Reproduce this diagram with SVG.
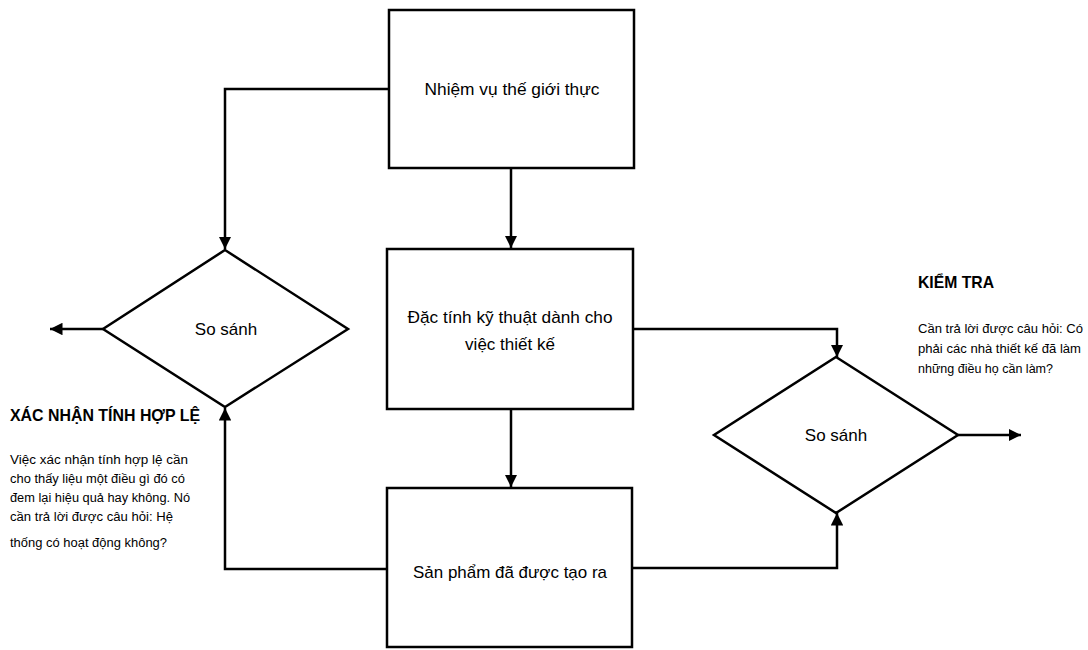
<svg xmlns="http://www.w3.org/2000/svg" width="1088" height="650" viewBox="0 0 1088 650">
<defs>
<marker id="arr" viewBox="0 0 10 10" refX="10" refY="5" markerWidth="5" markerHeight="5" markerUnits="strokeWidth" orient="auto">
<path d="M0,0 L10,5 L0,10 z" fill="#000"/>
</marker>
</defs>
<style>
.box{fill:#fff;stroke:#000;stroke-width:2.5}
.dia{fill:#fff;stroke:#000;stroke-width:2.5;stroke-linejoin:miter}
.con{fill:none;stroke:#000;stroke-width:2.5}
.arr{marker-end:url(#arr)}
.lbl{font-family:"Liberation Sans",Arial,sans-serif;font-size:17px;fill:#000;text-anchor:middle}
.head{font-family:"Liberation Sans",Arial,sans-serif;font-size:17px;font-weight:bold;fill:#000}
.body{font-family:"Liberation Sans",Arial,sans-serif;font-size:12.5px;fill:#000}
</style>
<rect width="1088" height="650" fill="#fff"/>
<g id="connectors">
<polyline class="con arr" points="389,89 225,89 225,249"/>
<line class="con arr" x1="511" y1="168" x2="511" y2="248"/>
<line class="con arr" x1="511" y1="409" x2="511" y2="487"/>
<line class="con arr" x1="103" y1="329" x2="50" y2="329"/>
<polyline class="con arr" points="387,569 225,569 225,408"/>
<polyline class="con arr" points="633,329 837,329 837,357"/>
<polyline class="con arr" points="632,568 837,568 837,513"/>
<line class="con arr" x1="958" y1="435" x2="1021" y2="435"/>
</g>
<g id="task">
<rect class="box" x="389" y="10" width="245" height="158"/>
<text class="lbl" x="512" y="95" textLength="175" lengthAdjust="spacingAndGlyphs">Nhiệm vụ thế giới thực</text>
</g>
<g id="spec">
<rect class="box" x="387" y="249" width="246" height="160"/>
<text class="lbl" x="510" y="323" textLength="205" lengthAdjust="spacingAndGlyphs">Đặc tính kỹ thuật dành cho</text>
<text class="lbl" x="510" y="350">việc thiết kế</text>
</g>
<g id="product">
<rect class="box" x="387" y="488" width="245" height="159"/>
<text class="lbl" x="510" y="578" textLength="194" lengthAdjust="spacingAndGlyphs">Sản phẩm đã được tạo ra</text>
</g>
<g id="compare-left">
<polygon class="dia" points="225,250 348,329 225,407 103,329"/>
<text class="lbl" x="226" y="335">So sánh</text>
</g>
<g id="compare-right">
<polygon class="dia" points="836,357 958,435 836,513 714,435"/>
<text class="lbl" x="836" y="441">So sánh</text>
</g>
<g id="validation-note">
<text class="head" x="10" y="421" textLength="190" lengthAdjust="spacingAndGlyphs">XÁC NHẬN TÍNH HỢP LỆ</text>
<text class="body" x="10" y="464" textLength="178" lengthAdjust="spacingAndGlyphs">Việc xác nhận tính hợp lệ cần</text>
<text class="body" x="10" y="483" textLength="175" lengthAdjust="spacingAndGlyphs">cho thấy liệu một điều gì đó có</text>
<text class="body" x="10" y="502" textLength="180" lengthAdjust="spacingAndGlyphs">đem lại hiệu quả hay không. Nó</text>
<text class="body" x="10" y="521" textLength="163" lengthAdjust="spacingAndGlyphs">cần trả lời được câu hỏi: Hệ</text>
<text class="body" x="10" y="547" textLength="157" lengthAdjust="spacingAndGlyphs">thống có hoạt động không?</text>
</g>
<g id="verification-note">
<text class="head" x="918" y="288" textLength="76" lengthAdjust="spacingAndGlyphs">KIỂM TRA</text>
<text class="body" x="918" y="333" textLength="165" lengthAdjust="spacingAndGlyphs">Cần trả lời được câu hỏi: Có</text>
<text class="body" x="918" y="353" textLength="163" lengthAdjust="spacingAndGlyphs">phải các nhà thiết kế đã làm</text>
<text class="body" x="918" y="373" textLength="135" lengthAdjust="spacingAndGlyphs">những điều họ cần làm?</text>
</g>
</svg>
